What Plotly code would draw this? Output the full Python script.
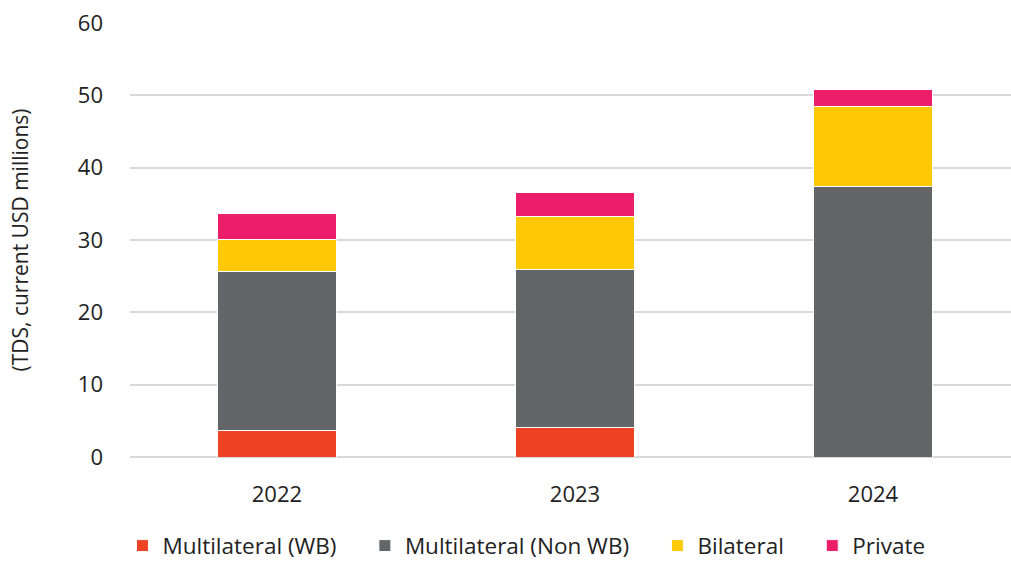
import plotly.graph_objects as go

years = ["2022", "2023", "2024"]
series_names = ["Multilateral (WB)", "Multilateral (Non WB)", "Bilateral", "Private"]
wb = [3.6, 4.1, 0.0]
non_wb = [22.1, 21.8, 37.4]
bilateral = [4.4, 7.4, 11.0]
private = [3.5, 3.3, 2.4]
colors = ["#EF4123", "#646569", "#FFC907", "#ED1E69"]
y_ticks = [0, 10, 20, 30, 40, 50, 60]

pad = "\u00a0" * 4
fig = go.Figure()
for i, (name, vals, col) in enumerate(zip(series_names, [wb, non_wb, bilateral, private], colors)):
    fig.add_trace(go.Bar(
        x=[0, 1, 2], y=vals, name=name + (pad if i < 3 else ""), width=0.4,
        marker=dict(color=col, line=dict(color="white", width=1)),
        hovertemplate=name + ": %{y}<extra></extra>",
    ))

font_family = "'Open Sans', sans-serif"
fig.update_layout(
    barmode="stack",
    width=1011, height=562,
    margin=dict(l=130, r=0, t=23, b=105, autoexpand=False),
    plot_bgcolor="white", paper_bgcolor="white",
    font=dict(family=font_family, size=22, color="#222222"),
    showlegend=True,
    legend=dict(orientation="h", x=0.45, xanchor="center", y=-0.205, yanchor="middle",
                font=dict(size=22.5), itemwidth=30, traceorder="normal",
                tracegroupgap=0, bgcolor="rgba(0,0,0,0)"),
    xaxis=dict(tickmode="array", tickvals=[0, 1, 2], ticktext=years,
               range=[-0.493, 2.463], showgrid=False, zeroline=False,
               showline=False, ticks="", ticklabelstandoff=22),
    yaxis=dict(range=[0, 60], tickvals=y_ticks, showgrid=True, gridcolor="#D9D9D9",
               gridwidth=1.5, zeroline=True, zerolinecolor="#D9D9D9", zerolinewidth=1.5,
               ticks="", ticklabelstandoff=26,
               title=dict(text="(TDS, current USD millions)", font=dict(size=21), standoff=43)),
)
fig.write_html("out.html")
